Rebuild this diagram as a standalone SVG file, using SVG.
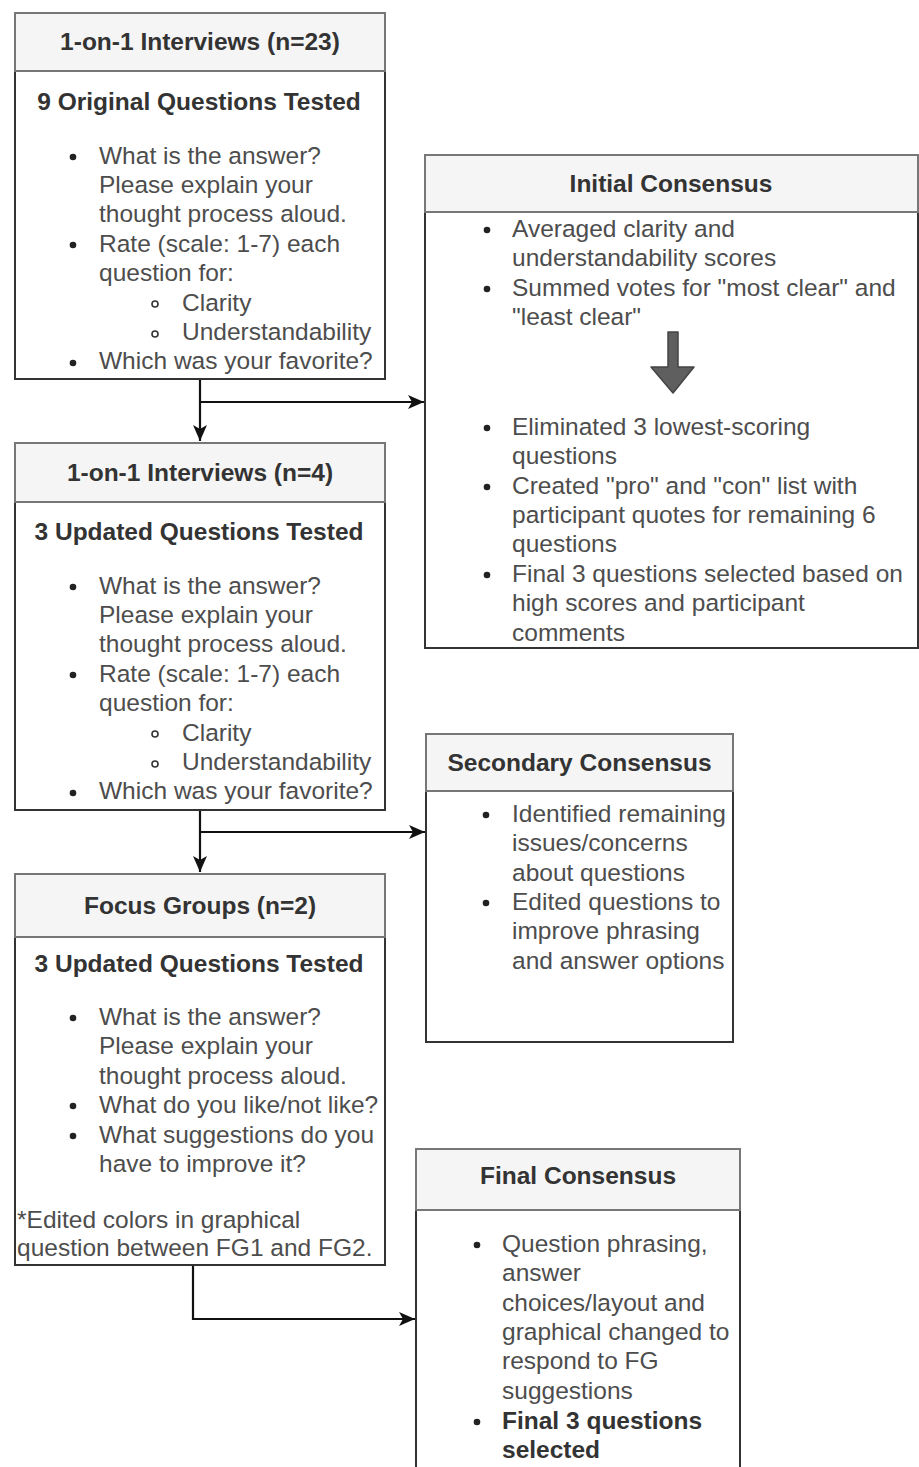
<svg xmlns="http://www.w3.org/2000/svg" width="919" height="1467" viewBox="0 0 919 1467">
<style>
text{font-family:"Liberation Sans",Arial,sans-serif;font-size:24.5px;fill:#4d4d4d}
.t{font-weight:bold;fill:#333;text-anchor:middle}
.b{font-weight:bold;fill:#333}
.hd{fill:#f5f5f5;stroke:#777;stroke-width:2}
.bd{fill:#fff;stroke:#333;stroke-width:2}
.dot{fill:#222}
.sub{fill:none;stroke:#333;stroke-width:1.6}
.c{fill:none;stroke:#111;stroke-width:2.2}
</style>
<defs>
<marker id="ah" markerUnits="userSpaceOnUse" markerWidth="17" markerHeight="14" refX="16" refY="7" orient="auto">
<path d="M0,0 L16,7 L0,14 L4,7 Z" fill="#111"/>
</marker>
</defs>
<rect width="919" height="1467" fill="#fff"/>

<g id="connectors">
<path class="c" d="M200,379 V441" marker-end="url(#ah)"/>
<path class="c" d="M200,402 H424" marker-end="url(#ah)"/>
<path class="c" d="M200,810 V872" marker-end="url(#ah)"/>
<path class="c" d="M200,832 H425" marker-end="url(#ah)"/>
<path class="c" d="M193,1265 V1319 H415" marker-end="url(#ah)"/>
</g>

<g id="interviews23">
<rect class="bd" x="15" y="71" width="370" height="308"/>
<rect class="hd" x="15" y="13" width="370" height="58"/>
<text class="t" x="200" y="50">1-on-1 Interviews (n=23)</text>
<text class="t" x="199" y="110">9 Original Questions Tested</text>
<circle class="dot" cx="73" cy="157" r="3.3"/>
<text x="99" y="163.5">What is the answer?</text>
<text x="99" y="192.9">Please explain your</text>
<text x="99" y="222.3">thought process aloud.</text>
<circle class="dot" cx="73" cy="245" r="3.3"/>
<text x="99" y="251.7">Rate (scale: 1-7) each</text>
<text x="99" y="281.1">question for:</text>
<circle class="sub" cx="155" cy="304" r="3"/>
<text x="182" y="310.5">Clarity</text>
<circle class="sub" cx="155" cy="334" r="3"/>
<text x="182" y="339.9">Understandability</text>
<circle class="dot" cx="73" cy="363" r="3.3"/>
<text x="99" y="369.3">Which was your favorite?</text>
</g>

<g id="initialConsensus">
<rect class="bd" x="425" y="212" width="493" height="436"/>
<rect class="hd" x="425" y="155" width="493" height="57"/>
<text class="t" x="671" y="191.7">Initial Consensus</text>
<circle class="dot" cx="487" cy="230" r="3.3"/>
<text x="512" y="236.7">Averaged clarity and</text>
<text x="512" y="266.1">understandability scores</text>
<circle class="dot" cx="487" cy="289" r="3.3"/>
<text x="512" y="295.5">Summed votes for "most clear" and</text>
<text x="512" y="324.9">"least clear"</text>
<path d="M668,332 H678 V367 H694 L673,393 L651,367 H668 Z" fill="#5f5f5f" stroke="#444" stroke-width="1.5" stroke-linejoin="round"/>
<circle class="dot" cx="487" cy="428" r="3.3"/>
<text x="512" y="434.8">Eliminated 3 lowest-scoring</text>
<text x="512" y="464.2">questions</text>
<circle class="dot" cx="487" cy="487" r="3.3"/>
<text x="512" y="493.6">Created "pro" and "con" list with</text>
<text x="512" y="523">participant quotes for remaining 6</text>
<text x="512" y="552.4">questions</text>
<circle class="dot" cx="487" cy="575" r="3.3"/>
<text x="512" y="581.8">Final 3 questions selected based on</text>
<text x="512" y="611.2">high scores and participant</text>
<text x="512" y="640.6">comments</text>
</g>

<g id="interviews4">
<rect class="bd" x="15" y="502" width="370" height="308"/>
<rect class="hd" x="15" y="443" width="370" height="59"/>
<text class="t" x="200" y="480.7">1-on-1 Interviews (n=4)</text>
<text class="t" x="199" y="540">3 Updated Questions Tested</text>
<circle class="dot" cx="73" cy="587" r="3.3"/>
<text x="99" y="593.5">What is the answer?</text>
<text x="99" y="622.9">Please explain your</text>
<text x="99" y="652.3">thought process aloud.</text>
<circle class="dot" cx="73" cy="675" r="3.3"/>
<text x="99" y="681.7">Rate (scale: 1-7) each</text>
<text x="99" y="711.1">question for:</text>
<circle class="sub" cx="155" cy="734" r="3"/>
<text x="182" y="740.5">Clarity</text>
<circle class="sub" cx="155" cy="764" r="3"/>
<text x="182" y="769.9">Understandability</text>
<circle class="dot" cx="73" cy="793" r="3.3"/>
<text x="99" y="799.3">Which was your favorite?</text>
</g>

<g id="secondaryConsensus">
<rect class="bd" x="426" y="791" width="307" height="251"/>
<rect class="hd" x="426" y="734" width="307" height="57"/>
<text class="t" x="579.5" y="770.7">Secondary Consensus</text>
<circle class="dot" cx="486" cy="815" r="3.3"/>
<text x="512" y="821.7">Identified remaining</text>
<text x="512" y="851.1">issues/concerns</text>
<text x="512" y="880.5">about questions</text>
<circle class="dot" cx="486" cy="903" r="3.3"/>
<text x="512" y="909.9">Edited questions to</text>
<text x="512" y="939.3">improve phrasing</text>
<text x="512" y="968.7">and answer options</text>
</g>

<g id="focusGroups">
<rect class="bd" x="15" y="937" width="370" height="328"/>
<rect class="hd" x="15" y="874" width="370" height="63"/>
<text class="t" x="200" y="914">Focus Groups (n=2)</text>
<text class="t" x="199" y="971.7">3 Updated Questions Tested</text>
<circle class="dot" cx="73" cy="1018" r="3.3"/>
<text x="99" y="1025">What is the answer?</text>
<text x="99" y="1054.4">Please explain your</text>
<text x="99" y="1083.8">thought process aloud.</text>
<circle class="dot" cx="73" cy="1106" r="3.3"/>
<text x="99" y="1113.2">What do you like/not like?</text>
<circle class="dot" cx="73" cy="1136" r="3.3"/>
<text x="99" y="1142.6">What suggestions do you</text>
<text x="99" y="1172">have to improve it?</text>
<text x="17" y="1227.7">*Edited colors in graphical</text>
<text x="17" y="1256">question between FG1 and FG2.</text>
</g>

<g id="finalConsensus">
<rect class="bd" x="416" y="1210" width="324" height="280"/>
<rect class="hd" x="416" y="1149" width="324" height="61"/>
<text class="t" x="578" y="1184">Final Consensus</text>
<circle class="dot" cx="477" cy="1245" r="3.3"/>
<text x="502" y="1251.7">Question phrasing,</text>
<text x="502" y="1281.1">answer</text>
<text x="502" y="1310.5">choices/layout and</text>
<text x="502" y="1339.9">graphical changed to</text>
<text x="502" y="1369.3">respond to FG</text>
<text x="502" y="1398.7">suggestions</text>
<circle class="dot" cx="477" cy="1422" r="3.3"/>
<text class="b" x="502" y="1429">Final 3 questions</text>
<text class="b" x="502" y="1458">selected</text>
</g>
</svg>
